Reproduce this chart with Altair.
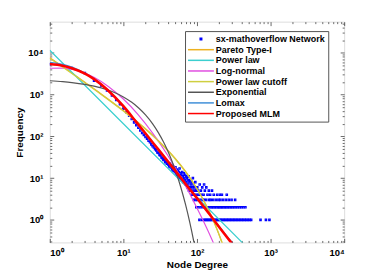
import altair as alt
import pandas as pd

FONT = "Liberation Sans"

SERIES = ["sx-mathoverflow Network", "Pareto Type-I", "Power law", "Log-normal",
          "Power law cutoff", "Exponential", "Lomax", "Proposed MLM"]
COLORS = ["#0000ff", "#EDB120", "#3CCFCF", "#E04FE0", "#CFCF40", "#555555", "#4090D8", "#ff0000"]
WIDTHS = [1.2, 1.2, 1.2, 1.2, 1.2, 1.2, 1.4, 2.6]

# observed degree distribution (k = 1..100)
DEG_HEAD = list(range(1, 101))
FREQ_HEAD = [5300, 4300, 3250, 2150, 1650, 1250, 950, 740, 590, 460,
             380, 310, 260, 215, 185, 160, 138, 120, 108, 96,
             88, 78, 72, 64, 58, 54, 49, 46, 41, 40,
             36, 35, 31, 30, 27, 28, 24, 25, 22, 23,
             21, 19, 22, 18, 20, 16, 19, 15, 17, 14,
             18, 13, 16, 12, 15, 11, 14, 17, 10, 13,
             12, 9, 14, 11, 8, 13, 10, 9, 12, 7,
             11, 8, 10, 6, 9, 7, 11, 5, 8, 6,
             9, 5, 7, 4, 8, 6, 5, 10, 4, 7,
             3, 6, 5, 4, 8, 3, 5, 2, 6, 4]
# tail (k > 100): degrees observed with count 1, 2, 3, ...
TAIL_K1 = [108, 117, 126, 131, 137, 143, 149, 156, 163, 170, 178, 186, 194, 203, 212,
           222, 232, 243, 254, 266, 278, 291, 305, 319, 334, 350, 367, 385, 404, 424,
           445, 468, 492, 518, 545, 730, 865, 965]
TAIL_K2 = [104, 112, 121, 129, 135, 141, 152, 159, 167, 175, 184, 193, 201, 210, 219,
           229, 240, 251, 263, 276, 290, 304, 320, 338, 357, 378, 400, 425, 455]
TAIL_K3 = [102, 110, 119, 124, 133, 146, 154, 166, 181, 196, 208, 226, 247, 270, 295, 330]
TAIL_K4 = [106, 115, 123, 139, 151, 169, 188, 205, 218, 254]
TAIL_K5 = [103, 113, 128, 145, 160]
TAIL_K6 = [101, 118, 134]
TAIL_K7 = [109, 125]

# fitted curves
PARETO_K = [1, 2, 3, 5, 10, 20, 30, 50, 70, 100, 130, 160, 190, 220, 240]
PARETO_F = [7600, 3270, 1970, 1035, 415, 152, 79, 30.5, 14.5, 5.65, 2.47, 1.16, 0.565, 0.283, 0.182]
POWER_K = [1, 10, 100, 1000]
POWER_F = [11480, 200, 3.47, 0.06]
LOGN_K = [1, 1.585, 2.512, 3.981, 6.31, 10, 15.85, 25.12, 39.81, 63.1, 100, 125.9, 158.5, 177.8]
LOGN_F = [4266, 4285, 3622, 2582, 1545, 780, 331, 118, 35.7, 9.06, 1.93, 0.837, 0.348, 0.22]
CUTOFF_K = [1, 2, 3, 5, 10, 20, 30, 50, 70, 100, 130, 160, 190, 220, 240]
CUTOFF_F = [7413, 3170, 1914, 1002, 401, 147, 76.2, 29.4, 14.0, 5.46, 2.39, 1.12, 0.545, 0.273, 0.176]
EXPO_K = [1, 1.5, 2, 3, 4, 5, 7, 10, 13, 16, 20, 25, 30, 35, 40, 45, 50, 55, 60, 65, 70, 75, 80, 85, 90, 95]
EXPO_F = [2138, 2035, 1936, 1754, 1589, 1439, 1180, 877, 652, 484, 326, 199, 121, 73.8, 45.0, 27.4,
          16.7, 10.2, 6.21, 3.78, 2.31, 1.41, 0.857, 0.522, 0.318, 0.194]
LOMAX_K = [1, 1.5, 2, 3, 4, 6, 10, 15, 20, 30, 50, 70, 100, 150, 200, 285, 320]
LOMAX_F = [5900, 5250, 4500, 3250, 2380, 1330, 525, 220, 117, 48, 15.6, 7.3, 3.35, 1.35, 0.70, 0.32, 0.25]
MLM_K = [1, 1.5, 2, 3, 4, 6, 10, 15, 20, 30, 50, 70, 100, 150, 200, 285, 320]
MLM_F = [5370, 4900, 4270, 3160, 2340, 1320, 525, 219, 117, 47.9, 15.5, 7.24, 3.31, 1.32, 0.676, 0.302, 0.234]

X_TICKS = [1, 10, 100, 1000, 10000]
X_LABELS = ["10⁰", "10¹", "10²", "10³", "10⁴"]
Y_TICKS = [1, 10, 100, 1000, 10000]
Y_LABELS = ["10⁰", "10¹", "10²", "10³", "10⁴"]
X_DOMAIN = [1, 10000]
Y_DOMAIN = [0.288, 55600]

# ---- build tables ----
deg, freq = list(DEG_HEAD), list(FREQ_HEAD)
for cnt, ks in zip([1, 2, 3, 4, 5, 6, 7], [TAIL_K1, TAIL_K2, TAIL_K3, TAIL_K4, TAIL_K5, TAIL_K6, TAIL_K7]):
    deg += ks
    freq += [cnt] * len(ks)
pts = pd.DataFrame({"k": deg, "f": freq, "series": SERIES[0]})

curve_data = [(PARETO_K, PARETO_F), (POWER_K, POWER_F), (LOGN_K, LOGN_F), (CUTOFF_K, CUTOFF_F),
              (EXPO_K, EXPO_F), (LOMAX_K, LOMAX_F), (MLM_K, MLM_F)]
rows = []
for name, (ks, fs) in zip(SERIES[1:], curve_data):
    for i, (k, f) in enumerate(zip(ks, fs)):
        rows.append({"k": k, "f": f, "series": name, "i": i})
curves = pd.DataFrame(rows)

xscale = alt.Scale(type="log", domain=X_DOMAIN, nice=False)
yscale = alt.Scale(type="log", domain=Y_DOMAIN, nice=False)
color_scale = alt.Scale(domain=SERIES, range=COLORS)
DOT = "M-0.19,-0.19H0.19V0.19H-0.19Z"
LINE = "M-3.25,0H3.25"
shape_scale = alt.Scale(domain=SERIES, range=[DOT] + [LINE] * 7)


def label_expr(vals, labs):
    return " : ".join(f"datum.value == {v} ? '{l}'" for v, l in zip(vals, labs)) + " : ''"


X_MINOR = [m * 10 ** e for e in range(4) for m in range(2, 10)]
Y_MINOR = [m / 10 for m in range(3, 10)] + [m * 10 ** e for e in range(4) for m in range(2, 10)] + [20000, 30000, 40000, 50000]

TICK_COL = "#444444"


def tick_axis(orient, values, size):
    return alt.Axis(orient=orient, values=values, tickSize=size, offset=-size, domain=False, grid=False,
                    tickColor=TICK_COL, tickWidth=0.8, labels=False)


x_label_axis = alt.Axis(orient="bottom", values=X_TICKS, ticks=False, domain=False, grid=False,
                        labelExpr=label_expr(X_TICKS, X_LABELS), labelFont=FONT, labelFontWeight="bold",
                        labelFontSize=9.5, labelColor="#000000", labelPadding=5, labelBaseline="top",
                        titleFont=FONT, titleFontWeight="bold", titleFontSize=10, titleColor="#000000",
                        titleY=22, titleBaseline="middle")
y_label_axis = alt.Axis(orient="left", values=Y_TICKS, ticks=False, domain=False, grid=False,
                        labelExpr=label_expr(Y_TICKS, Y_LABELS), labelFont=FONT, labelFontWeight="bold",
                        labelFontSize=9.5, labelColor="#000000", labelPadding=7, labelBaseline="middle",
                        labelAlign="right", titleFont=FONT, titleFontWeight="bold", titleFontSize=10,
                        titleColor="#000000", titlePadding=3)

legend = alt.Legend(orient="none", legendX=136, legendY=9.5, title=None, labelFont=FONT,
                    labelFontWeight="bold", labelFontSize=9, labelColor="#000000",
                    strokeColor="#555555", fillColor="white", padding=3, rowPadding=0.7,
                    symbolOffset=8, labelOffset=10, symbolStrokeWidth=1.5, symbolSize=64)

axes_plan = [
    (x_label_axis, "Node Degree", y_label_axis, "Frequency"),
    (tick_axis("bottom", X_TICKS, 4), "", tick_axis("left", Y_TICKS, 4), ""),
    (tick_axis("bottom", X_MINOR, 2), "", tick_axis("left", Y_MINOR, 2), ""),
    (tick_axis("top", X_TICKS, 4), "", tick_axis("right", Y_TICKS, 4), ""),
    (tick_axis("top", X_MINOR, 2), "", tick_axis("right", Y_MINOR, 2), ""),
]

layers = []
point_layer = alt.Chart(pts).mark_point(filled=False, size=64, strokeWidth=1.1, opacity=1, clip=True).encode(
    x=alt.X("k:Q", scale=xscale, axis=axes_plan[0][0], title=axes_plan[0][1]),
    y=alt.Y("f:Q", scale=yscale, axis=axes_plan[0][2], title=axes_plan[0][3]),
    color=alt.Color("series:N", scale=color_scale, legend=legend),
    shape=alt.Shape("series:N", scale=shape_scale, legend=legend),
)
layers.append(point_layer)

for idx, name in enumerate(SERIES[1:]):
    plan = axes_plan[idx + 1] if idx + 1 < len(axes_plan) else None
    if plan:
        xenc = alt.X("k:Q", scale=xscale, axis=plan[0], title=plan[1])
        yenc = alt.Y("f:Q", scale=yscale, axis=plan[2], title=plan[3])
    else:
        xenc = alt.X("k:Q", scale=xscale, axis=None)
        yenc = alt.Y("f:Q", scale=yscale, axis=None)
    layer = alt.Chart(curves).transform_filter(alt.datum.series == name).mark_line(
        strokeWidth=WIDTHS[idx + 1], clip=True, interpolate="monotone"
    ).encode(
        x=xenc, y=yenc,
        color=alt.Color("series:N", scale=color_scale, legend=None),
        order="i:Q",
    )
    layers.append(layer)

chart = alt.layer(*layers).resolve_axis(x="independent", y="independent").properties(
    width=296, height=222,
    padding={"left": 42, "top": 13, "right": 30, "bottom": 28},
    autosize=alt.AutoSizeParams(type="none"),
).configure_view(stroke="#808080", strokeWidth=1).configure(background="white")

chart.save("out.html", embed_options={"renderer": "svg", "actions": False})
